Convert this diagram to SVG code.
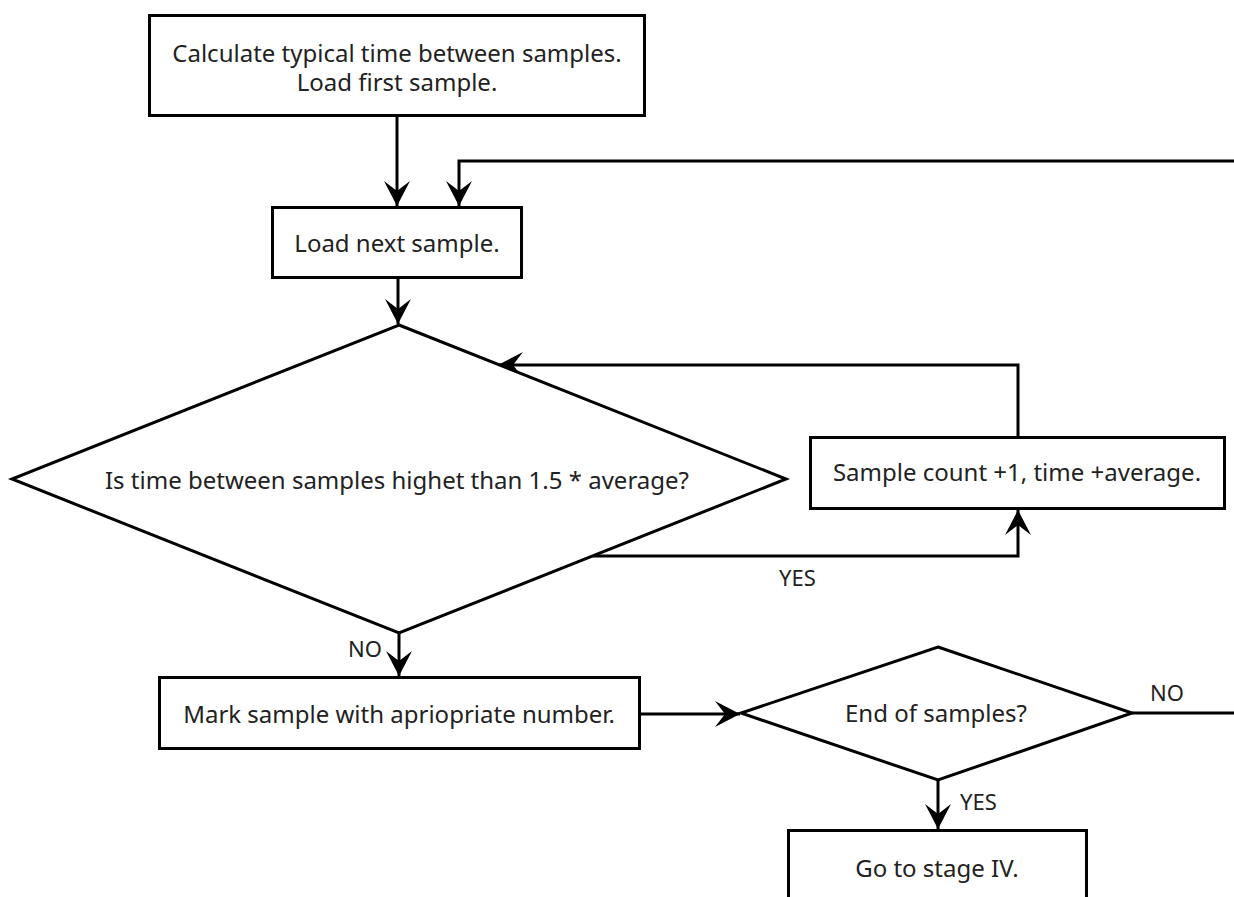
<svg xmlns="http://www.w3.org/2000/svg" width="1234" height="897" viewBox="0 0 1234 897">
<style>
.n{fill:#fff;stroke:#000;stroke-width:3}
.t{font-family:"Noto Sans","Open Sans",sans-serif;font-size:24px;fill:#222;text-anchor:middle}
.l{font-family:"Noto Sans","Open Sans",sans-serif;font-size:22px;fill:#222}
.c{fill:none;stroke:#000;stroke-width:3}
.a{marker-end:url(#ah)}
</style>
<defs>
<marker id="ah" markerUnits="userSpaceOnUse" markerWidth="30" markerHeight="30" viewBox="-26 -15 30 30" refX="0" refY="0" orient="auto" overflow="visible">
<path d="M0,0 L-25,-13 L-15,0 L-25,13 Z" fill="#000"/>
</marker>
</defs>
<rect width="1234" height="897" fill="#fff"/>
<g id="connectors">
<path class="c a" d="M397,116 V206"/>
<path class="c a" d="M1234,161 H459 V206"/>
<path class="c a" d="M398,278 V324"/>
<path class="c a" d="M1018,437 V365 H498"/>
<path class="c a" d="M593,556 H1018 V510"/>
<path class="c a" d="M399,633 V676"/>
<path class="c a" d="M640,714 H740"/>
<path class="c a" d="M938,780 V829"/>
<path class="c" d="M1132,713 H1234"/>
</g>
<g id="n1"><rect class="n" x="149.5" y="15.5" width="495" height="100"/><text class="t" x="397" y="62">Calculate typical time between samples.</text><text class="t" x="397" y="91">Load first sample.</text></g>
<g id="n2"><rect class="n" x="272.5" y="207.5" width="249" height="70"/><text class="t" x="397" y="252">Load next sample.</text></g>
<g id="n3"><polygon class="n" points="399,325 786,479 399,633 12,479"/><text class="t" x="397" y="489">Is time between samples highet than 1.5 * average?</text></g>
<g id="n4"><rect class="n" x="810.5" y="437.5" width="414" height="71"/><text class="t" x="1017" y="481">Sample count +1, time +average.</text></g>
<g id="n5"><rect class="n" x="159.5" y="677.5" width="480" height="71"/><text class="t" x="399" y="723">Mark sample with apriopriate number.</text></g>
<g id="n6"><polygon class="n" points="938,647 1132,713 938,780 741,713"/><text class="t" x="936" y="722">End of samples?</text></g>
<g id="n7"><rect class="n" x="788.5" y="830.5" width="298" height="100"/><text class="t" x="937" y="877">Go to stage IV.</text></g>
<g id="labels">
<text class="l" x="779" y="586">YES</text>
<text class="l" x="382" y="657" text-anchor="end">NO</text>
<text class="l" x="1150" y="701">NO</text>
<text class="l" x="960" y="810">YES</text>
</g>
</svg>
